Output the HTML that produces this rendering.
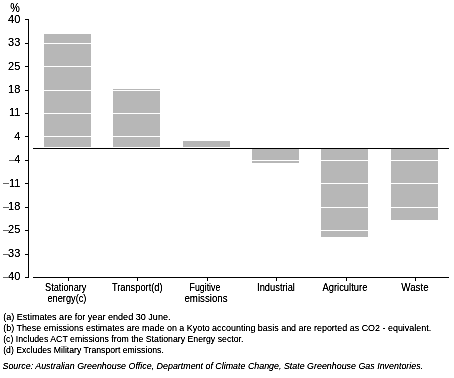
<!DOCTYPE html><html><head><meta charset="utf-8"><style>html,body{margin:0;padding:0;background:#fff;}svg{display:block}body{filter:grayscale(1)}text{font-family:"Liberation Sans",sans-serif;fill:#000;}</style></head><body>
<svg width="454" height="378" viewBox="0 0 454 378" shape-rendering="crispEdges">
<rect x="44" y="34" width="47" height="113" fill="#b7b7b7"/>
<rect x="44" y="43" width="47" height="1" fill="#fff"/>
<rect x="44" y="66" width="47" height="1" fill="#fff"/>
<rect x="44" y="90" width="47" height="1" fill="#fff"/>
<rect x="44" y="113" width="47" height="1" fill="#fff"/>
<rect x="44" y="136" width="47" height="1" fill="#fff"/>
<rect x="113" y="89" width="47" height="58" fill="#b7b7b7"/>
<rect x="113" y="90" width="47" height="1" fill="#fff"/>
<rect x="113" y="113" width="47" height="1" fill="#fff"/>
<rect x="113" y="136" width="47" height="1" fill="#fff"/>
<rect x="183" y="141" width="47" height="6" fill="#b7b7b7"/>
<rect x="252" y="149" width="47" height="14" fill="#b7b7b7"/>
<rect x="252" y="160" width="47" height="1" fill="#fff"/>
<rect x="321" y="149" width="47" height="88" fill="#b7b7b7"/>
<rect x="321" y="160" width="47" height="1" fill="#fff"/>
<rect x="321" y="183" width="47" height="1" fill="#fff"/>
<rect x="321" y="207" width="47" height="1" fill="#fff"/>
<rect x="321" y="230" width="47" height="1" fill="#fff"/>
<rect x="391" y="149" width="47" height="71" fill="#b7b7b7"/>
<rect x="391" y="160" width="47" height="1" fill="#fff"/>
<rect x="391" y="183" width="47" height="1" fill="#fff"/>
<rect x="391" y="207" width="47" height="1" fill="#fff"/>
<rect x="28" y="19" width="1" height="259" fill="#000"/>
<rect x="25" y="19" width="3" height="1" fill="#000"/>
<rect x="25" y="43" width="3" height="1" fill="#000"/>
<rect x="25" y="66" width="3" height="1" fill="#000"/>
<rect x="25" y="90" width="3" height="1" fill="#000"/>
<rect x="25" y="113" width="3" height="1" fill="#000"/>
<rect x="25" y="136" width="3" height="1" fill="#000"/>
<rect x="25" y="160" width="3" height="1" fill="#000"/>
<rect x="25" y="183" width="3" height="1" fill="#000"/>
<rect x="25" y="207" width="3" height="1" fill="#000"/>
<rect x="25" y="230" width="3" height="1" fill="#000"/>
<rect x="25" y="254" width="3" height="1" fill="#000"/>
<rect x="25" y="277" width="3" height="1" fill="#000"/>
<rect x="33" y="148" width="416" height="1" fill="#000"/>
<rect x="33" y="277" width="416" height="1" fill="#000"/>
<rect x="68" y="278" width="1" height="3" fill="#000"/>
<rect x="137" y="278" width="1" height="3" fill="#000"/>
<rect x="207" y="278" width="1" height="3" fill="#000"/>
<rect x="276" y="278" width="1" height="3" fill="#000"/>
<rect x="346" y="278" width="1" height="3" fill="#000"/>
<rect x="415" y="278" width="1" height="3" fill="#000"/>
<defs><filter id="sh" x="0" y="0" width="454" height="378" filterUnits="userSpaceOnUse"><feComponentTransfer><feFuncA type="linear" slope="1.7" intercept="-0.15"/></feComponentTransfer></filter></defs><g filter="url(#sh)">
<text x="20.3" y="22.95" font-size="11" text-anchor="end">40</text>
<text x="20.3" y="45.75" font-size="11" text-anchor="end">33</text>
<text x="20.3" y="69.85" font-size="11" text-anchor="end">25</text>
<text x="20.3" y="92.95" font-size="11" text-anchor="end">18</text>
<text x="20.3" y="116.45" font-size="11" text-anchor="end">11</text>
<text x="20.3" y="139.75" font-size="11" text-anchor="end">4</text>
<text x="20.3" y="162.95" font-size="11" text-anchor="end">4</text>
<rect x="9" y="160" width="5.5" height="1" fill="#666"/>
<text x="20.3" y="187.45" font-size="11" text-anchor="end">11</text>
<rect x="3" y="183" width="5.5" height="1" fill="#666"/>
<text x="20.3" y="209.95" font-size="11" text-anchor="end">18</text>
<rect x="3" y="207" width="5.5" height="1" fill="#666"/>
<text x="20.3" y="233.45" font-size="11" text-anchor="end">25</text>
<rect x="3" y="230" width="5.5" height="1" fill="#666"/>
<text x="20.3" y="256.95" font-size="11" text-anchor="end">33</text>
<rect x="3" y="254" width="5.5" height="1" fill="#666"/>
<text x="20.3" y="279.95" font-size="11" text-anchor="end">40</text>
<rect x="3" y="277" width="5.5" height="1" fill="#666"/>
<text x="10.2" y="11.7" font-size="12" textLength="9.6" lengthAdjust="spacingAndGlyphs">%</text>
<text x="45.10" y="290.9" font-size="11" textLength="41.30" lengthAdjust="spacingAndGlyphs">Stationary</text>
<text x="47.50" y="302.1" font-size="11" textLength="38.90" lengthAdjust="spacingAndGlyphs">energy(c)</text>
<text x="111.90" y="290.9" font-size="11" textLength="50.70" lengthAdjust="spacingAndGlyphs">Transport(d)</text>
<text x="189.50" y="290.9" font-size="11" textLength="30.90" lengthAdjust="spacingAndGlyphs">Fugitive</text>
<text x="184.40" y="302.1" font-size="11" textLength="43.20" lengthAdjust="spacingAndGlyphs">emissions</text>
<text x="257.10" y="290.9" font-size="11" textLength="37.80" lengthAdjust="spacingAndGlyphs">Industrial</text>
<text x="322.40" y="290.9" font-size="11" textLength="45.00" lengthAdjust="spacingAndGlyphs">Agriculture</text>
<text x="401.30" y="290.9" font-size="11" textLength="27.30" lengthAdjust="spacingAndGlyphs">Waste</text>
<text x="3.20" y="320.1" font-size="9.8" textLength="167.30" lengthAdjust="spacingAndGlyphs">(a) Estimates are for year ended 30 June.</text>
<text x="3.20" y="331.0" font-size="9.8" textLength="428.00" lengthAdjust="spacingAndGlyphs">(b) These emissions estimates are made on a Kyoto accounting basis and are reported as CO2 - equivalent.</text>
<text x="3.20" y="342.0" font-size="9.8" textLength="240.20" lengthAdjust="spacingAndGlyphs">(c) Includes ACT emissions from the Stationary Energy sector.</text>
<text x="3.20" y="352.9" font-size="9.8" textLength="160.60" lengthAdjust="spacingAndGlyphs">(d) Excludes Military Transport emissions.</text>
<text x="2.5" y="368.8" font-size="9.8" font-style="italic" textLength="420.60" lengthAdjust="spacingAndGlyphs">Source: Australian Greenhouse Office, Department of Climate Change, State Greenhouse Gas Inventories.</text>
</g></svg></body></html>
